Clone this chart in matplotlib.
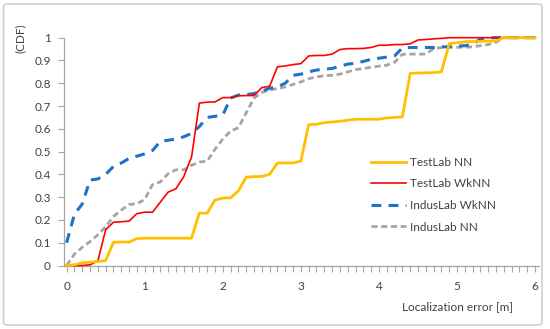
import numpy as np
import matplotlib
matplotlib.use("Agg")
import matplotlib.pyplot as plt
from matplotlib.patches import FancyBboxPatch
from matplotlib.ticker import MultipleLocator

# Localization error values (m), 0.1 m steps
error_m = [round(0.1 * i, 1) for i in range(61)]

testlab_nn = [0.0, 0.003, 0.012, 0.015, 0.017, 0.022, 0.102, 0.103, 0.103, 0.118,
              0.12, 0.12, 0.12, 0.12, 0.12, 0.12, 0.12, 0.23, 0.23, 0.287,
              0.296, 0.297, 0.327, 0.388, 0.39, 0.391, 0.40, 0.45, 0.45, 0.45,
              0.458, 0.618, 0.62, 0.627, 0.63, 0.633, 0.638, 0.642, 0.642, 0.642,
              0.642, 0.648, 0.65, 0.652, 0.843, 0.845, 0.846, 0.847, 0.85, 0.974,
              0.978, 0.982, 0.983, 0.984, 0.985, 0.986, 1.0, 1.0, 1.0, 1.0, 1.0]

testlab_wknn = [0.0, 0.0, 0.0, 0.003, 0.02, 0.157, 0.19, 0.192, 0.195, 0.228,
                0.234, 0.234, 0.278, 0.322, 0.337, 0.39, 0.476, 0.713, 0.717, 0.718,
                0.737, 0.737, 0.745, 0.746, 0.746, 0.781, 0.787, 0.872, 0.876, 0.882,
                0.886, 0.92, 0.922, 0.922, 0.928, 0.948, 0.952, 0.952, 0.953, 0.957,
                0.967, 0.967, 0.97, 0.97, 0.973, 0.99, 0.992, 0.995, 0.997, 1.0,
                1.0, 1.0, 1.0, 1.0, 1.0, 1.0, 1.0, 1.0, 1.0, 1.0, 1.0]

induslab_wknn = [0.10, 0.225, 0.27, 0.375, 0.38, 0.40, 0.435, 0.45, 0.47, 0.48,
                 0.49, 0.505, 0.545, 0.55, 0.555, 0.565, 0.58, 0.61, 0.65, 0.655,
                 0.66, 0.735, 0.748, 0.75, 0.755, 0.765, 0.778, 0.785, 0.80, 0.835,
                 0.84, 0.85, 0.858, 0.862, 0.865, 0.875, 0.884, 0.888, 0.896, 0.905,
                 0.91, 0.915, 0.92, 0.955, 0.957, 0.957, 0.957, 0.957, 0.96, 0.96,
                 0.963, 0.965, 0.97, 0.995, 1.0, 1.0, 1.0, 1.0, 1.0, 1.0, 1.0]

induslab_nn = [0.0, 0.05, 0.08, 0.105, 0.135, 0.17, 0.215, 0.243, 0.268, 0.271,
               0.29, 0.355, 0.367, 0.403, 0.42, 0.42, 0.44, 0.454, 0.458, 0.51,
               0.555, 0.59, 0.605, 0.67, 0.735, 0.76, 0.77, 0.777, 0.784, 0.795,
               0.806, 0.82, 0.828, 0.833, 0.835, 0.84, 0.85, 0.86, 0.865, 0.87,
               0.875, 0.879, 0.892, 0.927, 0.928, 0.928, 0.928, 0.952, 0.957, 0.958,
               0.958, 0.958, 0.96, 0.965, 0.97, 0.98, 1.0, 1.0, 1.0, 1.0, 1.0]

x_ticks = [0, 1, 2, 3, 4, 5, 6]
y_ticks = [0, 0.1, 0.2, 0.3, 0.4, 0.5, 0.6, 0.7, 0.8, 0.9, 1]
y_tick_labels = ["0", "0.1", "0.2", "0.3", "0.4", "0.5", "0.6", "0.7", "0.8", "0.9", "1"]

plt.rcParams['font.family'] = ['Lato', 'DejaVu Sans']

W, H = 550, 329
fig = plt.figure(figsize=(W / 100, H / 100), dpi=100)

# outer chart border
border = FancyBboxPatch((3.5 / W, 4 / H), (542 - 3.5) / W, (325 - 4) / H,
                        boxstyle="round,pad=0,rounding_size=0.008",
                        transform=fig.transFigure, facecolor="none",
                        edgecolor="#D0D0D0", linewidth=1.2, zorder=-1)
fig.patches.append(border)

x0, x1 = 63.5, 539.0
y0, y1 = 265.5, 37.7
ax = fig.add_axes([x0 / W, 1 - y0 / H, (x1 - x0) / W, (y0 - y1) / H])
ax.set_facecolor("none")

ax.plot(error_m, induslab_nn, color="#A5A5A5", lw=2.0, dashes=(2.2, 1.3),
        label="IndusLab NN", zorder=3, clip_on=False)
ax.plot(error_m, induslab_wknn, color="#1F72C8", lw=2.2, dashes=(3.2, 2.4),
        label="IndusLab WkNN", zorder=4, clip_on=False)
ax.plot(error_m, testlab_wknn, color="#FF0000", lw=1.2,
        label="TestLab WkNN", zorder=5, clip_on=False)
ax.plot(error_m, testlab_nn, color="#FFC000", lw=2.0,
        label="TestLab NN", zorder=6, clip_on=False)

ax.set_xlim(-0.04, 6.05)
ax.set_ylim(0, 1)

for s in ["top", "right"]:
    ax.spines[s].set_visible(False)
for s in ["left", "bottom"]:
    ax.spines[s].set_color("#A6A6A6")
    ax.spines[s].set_linewidth(0.9)

ax.set_xticks(x_ticks)
ax.set_xticklabels([str(t) for t in x_ticks])
ax.xaxis.set_minor_locator(MultipleLocator(0.1))
ax.set_yticks(y_ticks)
ax.set_yticklabels(y_tick_labels)

ax.tick_params(axis="x", which="both", direction="out", length=4, width=0.8,
               color="#A6A6A6", labelcolor="#404040", labelsize=8.5, pad=7)
ax.tick_params(axis="y", which="major", direction="out", length=4, width=0.8,
               color="#A6A6A6", labelcolor="#404040", labelsize=8.5, pad=5)

fig.text(20 / W, 1 - 38 / H, "(CDF)", rotation=90, ha="center", va="center",
         fontsize=8.5, color="#404040")
fig.text(458 / W, 1 - 307 / H, "Localization error [m]", ha="center", va="center",
         fontsize=8.5, color="#404040")

handles, labels = ax.get_legend_handles_labels()
order = [3, 2, 1, 0]
leg = fig.legend([handles[i] for i in order], [labels[i] for i in order],
                 loc="upper left", bbox_to_anchor=(366 / W, 1 - 152 / H),
                 frameon=False, fontsize=8.5, handlelength=3.0,
                 handletextpad=0.3, labelspacing=0.9, borderaxespad=0)
for t in leg.get_texts():
    t.set_color("#404040")

fig.savefig("out.png", dpi=100)
